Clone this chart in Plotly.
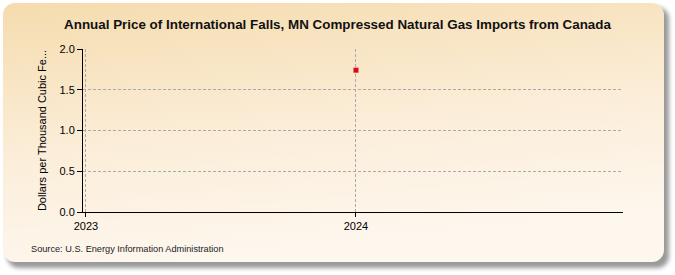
import base64
import plotly.graph_objects as go

# ---- data ----
years = [2024]
prices = [1.74]
x_tick_vals = [2023, 2024]
x_tick_text = ["2023", "2024"]
y_tick_vals = [0.0, 0.5, 1.0, 1.5, 2.0]
y_tick_text = ["0.0", "0.5", "1.0", "1.5", "2.0"]

title_text = "Annual Price of International Falls, MN Compressed Natural Gas Imports from Canada"
y_title = "Dollars per Thousand Cubic Fe..."
source_text = "Source: U.S. Energy Information Administration"

W, H = 675, 275
ML, MR, MT, MB = 83, 52, 49, 63
PW, PH = W - ML - MR, H - MT - MB

svg = f'''<svg xmlns="http://www.w3.org/2000/svg" width="{W}" height="{H}" viewBox="0 0 {W} {H}">
<defs>
<linearGradient id="g" x1="0" y1="0" x2="0.25" y2="1">
<stop offset="0" stop-color="#f5dcae"/>
<stop offset="0.55" stop-color="#fbedd8"/>
<stop offset="1" stop-color="#fef7ee"/>
</linearGradient>
<filter id="f" x="-5%" y="-5%" width="110%" height="110%"><feGaussianBlur stdDeviation="2"/></filter>
</defs>
<rect x="7" y="7" width="662" height="261" rx="12" ry="12" fill="#9a9a9a" filter="url(#f)"/>
<rect x="3" y="3" width="661" height="259" rx="12" ry="12" fill="url(#g)"/>
</svg>'''
uri = "data:image/svg+xml;base64," + base64.b64encode(svg.encode()).decode()

fig = go.Figure()
fig.add_trace(go.Scatter(
    x=years, y=prices, mode="markers",
    marker=dict(symbol="square", size=5, color="#dd0a1c", line=dict(width=0)),
    showlegend=False, hoverinfo="x+y",
))

fig.update_layout(
    width=W, height=H,
    margin=dict(l=ML, r=MR, t=MT, b=MB, pad=0),
    paper_bgcolor="white",
    plot_bgcolor="white",
    font=dict(family="Liberation Sans, Arial, sans-serif", size=11, color="#000"),
    title=dict(text=f"<b>{title_text}</b>", x=0.5, xanchor="center",
               y=1 - 24.5 / H, yanchor="middle",
               font=dict(size=13.4, color="#111")),
    images=[dict(source=uri, xref="paper", yref="paper",
                 x=-ML / PW, y=1 + MT / PH, sizex=W / PW, sizey=H / PH,
                 xanchor="left", yanchor="top", sizing="stretch", layer="below")],
    annotations=[dict(text=source_text, xref="paper", yref="paper",
                      x=-(ML - 29) / PW, y=-(249 - MT - PH) / PH,
                      xanchor="left", yanchor="middle", showarrow=False,
                      font=dict(size=9.2, color="#222"))],
)

fig.update_xaxes(
    range=[2022.989, 2024.989],
    tickvals=x_tick_vals, ticktext=x_tick_text,
    showline=True, linecolor="black", linewidth=1,
    ticks="outside", ticklen=4, tickcolor="black",
    showgrid=True, gridcolor="#aaaaaa", griddash="3px,2px", gridwidth=1,
    zeroline=False, mirror=False,
)
fig.update_yaxes(
    range=[0, 2.0],
    tickvals=y_tick_vals, ticktext=y_tick_text,
    title=dict(text=y_title, standoff=10, font=dict(size=11)),
    showline=True, linecolor="black", linewidth=1,
    ticks="outside", ticklen=5, tickcolor="black",
    showgrid=True, gridcolor="#aaaaaa", griddash="3px,2px", gridwidth=1,
    zeroline=False,
)

fig.write_html("out.html")
